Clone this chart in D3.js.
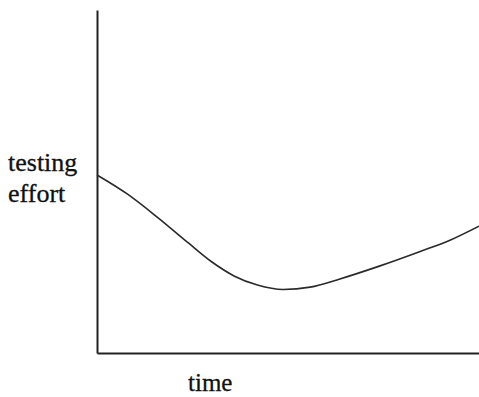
<!DOCTYPE html>
<html>
<head>
<meta charset="utf-8">
<script src="https://cdn.jsdelivr.net/npm/d3@7"></script>
<style>
  body { margin: 0; background: #fff; }
  text { font-family: "Liberation Serif", "Times New Roman", serif; fill: #111; stroke: #111; stroke-width: 0.3; }
</style>
</head>
<body>
<div id="chart"></div>
<script>
"use strict";

// time runs 0..100, effort 0..100 (no units on the original)
var timeVals   = [0, 8, 16, 24, 30, 36, 42, 48.7, 55.8, 63.6, 74.1, 84.6, 92.4, 100];
var effortVals = [51.9, 46.3, 39.4, 32.0, 26.6, 22.4, 19.8, 18.5, 19.2, 21.6, 25.4, 29.6, 32.9, 37.0];
var yLabel = ["testing", "effort"];
var xLabel = "time";

var margin = { top: 10, right: 0, bottom: 44, left: 97 },
    width = 479 - margin.left - margin.right,
    height = 397 - margin.top - margin.bottom;

var svg = d3.select("#chart")
            .append("svg")
            .attr("width", 479)
            .attr("height", 397)
            .append("g")
            .attr("transform", "translate(" + margin.left + "," + margin.top + ")");

var x = d3.scaleLinear().domain([0, 100]).range([0, width]);
var y = d3.scaleLinear().domain([0, 100]).range([height, 0]);

var xAxis = d3.axisBottom(x).ticks(0).tickSizeOuter(0);
var yAxis = d3.axisLeft(y).ticks(0).tickSizeOuter(0);

svg.append("g")
   .attr("class", "axis")
   .attr("transform", "translate(0," + height + ")")
   .call(xAxis)
   .select(".domain")
   .attr("stroke", "#222")
   .attr("stroke-width", 2);

svg.append("g")
   .attr("class", "axis")
   .call(yAxis)
   .select(".domain")
   .attr("stroke", "#222")
   .attr("stroke-width", 2);

var points = timeVals.map(function (t, i) { return [t, effortVals[i]]; });

var line = d3.line()
             .x(function (d) { return x(d[0]); })
             .y(function (d) { return y(d[1]); })
             .curve(d3.curveMonotoneX);

svg.append("path")
   .datum(points)
   .attr("d", line)
   .attr("fill", "none")
   .attr("stroke", "#2a2a2a")
   .attr("stroke-width", 1.6);

var label = svg.append("text")
               .attr("x", -89)
               .attr("y", 171 - margin.top)
               .style("font-size", "26px");
label.selectAll("tspan")
     .data(yLabel)
     .enter()
     .append("tspan")
     .attr("x", -89)
     .attr("dy", function (d, i) { return i === 0 ? 0 : 31; })
     .text(function (d) { return d; });

svg.append("text")
   .attr("x", 188 - margin.left)
   .attr("y", 391 - margin.top)
   .style("font-size", "25px")
   .text(xLabel);
</script>
</body>
</html>
